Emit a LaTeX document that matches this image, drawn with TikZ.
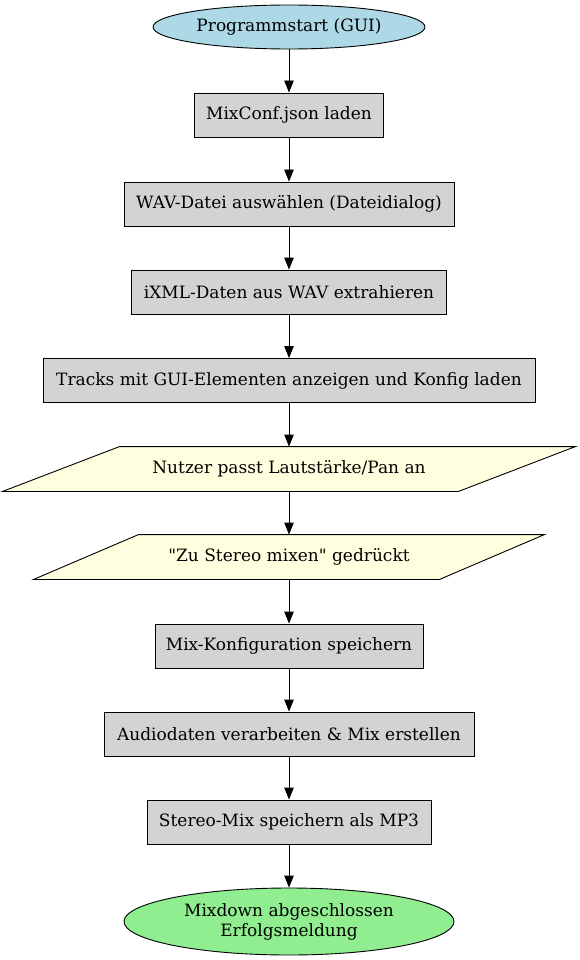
\documentclass[tikz,border=0pt]{standalone}
\usepackage{fontspec}
\setmainfont{DejaVu Serif}[Ligatures=TeXOff]
\usetikzlibrary{shapes.geometric,arrows.meta}
\definecolor{lblue}{HTML}{ADD8E6}
\definecolor{lgray}{HTML}{D3D3D3}
\definecolor{lyellow}{HTML}{FFFFE0}
\definecolor{lgreen}{HTML}{90EE90}
\tikzset{
  base/.style={font=\fontsize{17}{20}\selectfont, inner sep=0pt, line width=0.9pt, align=center},
  procbox/.style={base, draw, fill=lgray, rectangle, minimum height=44pt},
  termell/.style={base, draw, fill=#1, ellipse},
  iobox/.style={base, rectangle, minimum height=44pt},
  iofill/.style={draw, fill=lyellow, line width=0.9pt, line join=miter},
  arr/.style={line width=0.9pt, -{Triangle[length=12pt,width=9.5pt]}}
}
\begin{document}
\begin{tikzpicture}[x=1pt,y=-1pt]
\useasboundingbox (0,0) rectangle (579,960);
\node[termell=lblue, minimum width=272pt, minimum height=44pt] (n1) at (289,27) {Programmstart (GUI)};
\node[procbox, minimum width=189pt] (n2) at (289,115) {MixConf.json laden};
\node[procbox, minimum width=330pt] (n3) at (289,204) {WAV-Datei auswählen (Dateidialog)};
\node[procbox, minimum width=315pt] (n4) at (289,292) {iXML-Daten aus WAV extrahieren};
\node[procbox, minimum width=492pt] (n5) at (289,380.5) {Tracks mit GUI-Elementen anzeigen und Konfig laden};
\node[iobox, minimum width=455pt] (n6) at (289,469) {};
\draw[iofill] ([xshift=58.5pt]n6.north west) -- ([xshift=58.5pt]n6.north east) -- ([xshift=-58.5pt]n6.south east) -- ([xshift=-58.5pt]n6.south west) -- cycle;
\node[base] at (n6) {Nutzer passt Lautstärke/Pan an};
\node[iobox, minimum width=405pt] (n7) at (289,557) {};
\draw[iofill] ([xshift=52.5pt]n7.north west) -- ([xshift=52.5pt]n7.north east) -- ([xshift=-52.5pt]n7.south east) -- ([xshift=-52.5pt]n7.south west) -- cycle;
\node[base] at (n7) {"Zu Stereo mixen" gedrückt};
\node[procbox, minimum width=268pt] (n8) at (289,646) {Mix-Konfiguration speichern};
\node[procbox, minimum width=370pt] (n9) at (289,734) {Audiodaten verarbeiten \& Mix erstellen};
\node[procbox, minimum width=284pt] (n10) at (289,822) {Stereo-Mix speichern als MP3};
\node[termell=lgreen, minimum width=330pt, minimum height=67pt] (n11) at (289,921.5) {Mixdown abgeschlossen\\Erfolgsmeldung};
\draw[arr] (n1) -- (n2);
\draw[arr] (n2) -- (n3);
\draw[arr] (n3) -- (n4);
\draw[arr] (n4) -- (n5);
\draw[arr] (n5.south) -- (n6.north);
\draw[arr] (n6.south) -- (n7.north);
\draw[arr] (n7.south) -- (n8.north);
\draw[arr] (n8) -- (n9);
\draw[arr] (n9) -- (n10);
\draw[arr] (n10) -- (n11);
\end{tikzpicture}
\end{document}
